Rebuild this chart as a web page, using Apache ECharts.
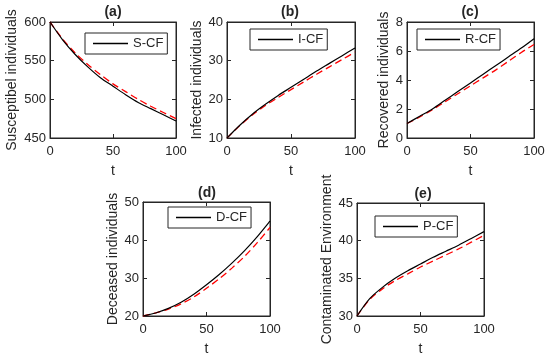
<!DOCTYPE html>
<html><head><meta charset="utf-8">
<script src="https://cdn.jsdelivr.net/npm/echarts@6/dist/echarts.min.js"></script>
<style>html,body{margin:0;padding:0;background:#fff}#c{width:550px;height:357px}</style>
</head><body><div id="c"></div>
<script>
// ---- data ----
const tValues = [0, 10, 20, 30, 40, 50, 60, 70, 80, 90, 100];
const xTicks = [0, 50, 100];

const sCF = [600, 577, 558, 542, 528, 517, 506, 496, 488, 480, 472];
const sRef = [600, 578, 560, 545, 532, 520, 510, 500, 491, 483, 475];

const iCF = [10, 13.3, 16.2, 18.7, 21.0, 23.1, 25.2, 27.3, 29.3, 31.3, 33.3];
const iRef = [10, 13.2, 16.0, 18.4, 20.5, 22.5, 24.5, 26.5, 28.4, 30.3, 32.2];

const rCF = [1.0, 1.5, 2.0, 2.6, 3.2, 3.8, 4.4, 5.0, 5.6, 6.2, 6.85];
const rRef = [1.0, 1.45, 1.95, 2.5, 3.05, 3.6, 4.15, 4.7, 5.3, 5.9, 6.45];

const dCF = [20, 20.8, 22.0, 23.6, 25.7, 28.2, 30.9, 33.9, 37.2, 40.9, 45.0];
const dRef = [20, 20.8, 21.8, 23.2, 25.0, 27.3, 29.8, 32.6, 35.7, 39.3, 43.3];

const pCF = [30, 32.3, 33.8, 35.0, 36.0, 36.9, 37.8, 38.6, 39.4, 40.3, 41.2];
const pRef = [30, 32.2, 33.6, 34.7, 35.6, 36.5, 37.3, 38.1, 38.9, 39.8, 40.7];

const panelTitles = ['(a)', '(b)', '(c)', '(d)', '(e)'];
const yNames = ['Susceptibel individuals', 'Infected individuals', 'Recovered individuals', 'Deceased individuals', 'Contaminated Environment'];
const legendNames = ['S-CF', 'I-CF', 'R-CF', 'D-CF', 'P-CF'];
const refNames = ['S-ref', 'I-ref', 'R-ref', 'D-ref', 'P-ref'];
const yTicks = [[450, 500, 550, 600], [10, 20, 30, 40], [0, 2, 4, 6, 8], [20, 30, 40, 50], [30, 35, 40, 45]];
const cfSeries = [sCF, iCF, rCF, dCF, pCF];
const refSeries = [sRef, iRef, rRef, dRef, pRef];

// ---- layout (styles) ----
const layout = [
  {grid: [50, 22, 126, 116], yGap: 31, title: [113, 0], legend: [85, 33]},
  {grid: [227, 22, 128, 116], yGap: 20, title: [290, 0], legend: [250, 29]},
  {grid: [407, 22, 127, 116], yGap: 16, title: [470, 0], legend: [417, 29]},
  {grid: [143, 202, 127, 114], yGap: 20, title: [207, 181], legend: [168, 207]},
  {grid: [357, 203, 127, 114], yGap: 20, title: [423, 182], legend: [375, 216]}
];

const ink = '#262626';
const font = 'Liberation Sans, Arial, sans-serif';
const pairs = (ys) => tValues.map((t, i) => [t, ys[i]]);

const option = {
  animation: false,
  backgroundColor: '#fff',
  textStyle: {fontFamily: font},
  title: [], legend: [], grid: [], xAxis: [], yAxis: [], series: []
};

layout.forEach((L, i) => {
  const [gl, gt, gw, gh] = L.grid;
  const yt = yTicks[i];
  const yInt = yt[1] - yt[0];
  option.grid.push({left: gl, top: gt, width: gw, height: gh, show: true,
    borderColor: ink, borderWidth: 1, backgroundColor: 'transparent'});
  option.title.push({
    text: panelTitles[i], left: L.title[0] - 5, top: L.title[1], textAlign: 'center',
    textStyle: {fontFamily: font, fontSize: 14, fontWeight: 'bold', color: ink}
  });
  option.legend.push({
    data: [legendNames[i]], left: L.legend[0], top: L.legend[1], orient: 'horizontal',
    icon: 'rect', padding: [4, 4, 4, 8], itemWidth: 35, itemHeight: 1.3, itemGap: 0,
    borderColor: ink, borderWidth: 1, borderRadius: 0, backgroundColor: '#fff',
    textStyle: {fontFamily: font, fontSize: 13, color: ink}, selectedMode: false
  });
  const axisCommon = {
    gridIndex: i, type: 'value', show: true,
    axisLine: {show: true, onZero: false, lineStyle: {color: ink, width: 1}},
    axisTick: {show: true, inside: true, length: 4, lineStyle: {color: ink}},
    splitLine: {show: false}
  };
  option.xAxis.push(Object.assign({}, axisCommon, {
    position: 'bottom', min: xTicks[0], max: xTicks[xTicks.length - 1], interval: xTicks[1] - xTicks[0],
    axisLabel: {fontFamily: font, fontSize: 13, color: ink, margin: 7},
    name: 't', nameLocation: 'middle', nameGap: 26,
    nameTextStyle: {fontFamily: font, fontSize: 14, color: ink}
  }));
  option.xAxis.push(Object.assign({}, axisCommon, {
    position: 'top', min: xTicks[0], max: xTicks[xTicks.length - 1], interval: xTicks[1] - xTicks[0],
    axisLabel: {show: false}
  }));
  option.yAxis.push(Object.assign({}, axisCommon, {
    position: 'left', min: yt[0], max: yt[yt.length - 1], interval: yInt,
    axisLabel: {fontFamily: font, fontSize: 13, color: ink, margin: 4},
    name: yNames[i], nameLocation: 'middle', nameGap: L.yGap,
    nameTextStyle: {fontFamily: font, fontSize: 14, color: ink}
  }));
  option.yAxis.push(Object.assign({}, axisCommon, {
    position: 'right', min: yt[0], max: yt[yt.length - 1], interval: yInt,
    axisLabel: {show: false}
  }));
  option.series.push({
    name: refNames[i], type: 'line', xAxisIndex: 2 * i, yAxisIndex: 2 * i,
    data: pairs(refSeries[i]), symbol: 'none', smooth: 0.3, z: 2,
    lineStyle: {color: '#ff0000', width: 1.3, type: [7, 4]}, itemStyle: {color: '#ff0000'}
  });
  option.series.push({
    name: legendNames[i], type: 'line', xAxisIndex: 2 * i, yAxisIndex: 2 * i,
    data: pairs(cfSeries[i]), symbol: 'none', smooth: 0.3, z: 3,
    lineStyle: {color: '#000', width: 1.2}, itemStyle: {color: '#000'}
  });
  option.series.push({
    name: 'mirror' + i, type: 'line', xAxisIndex: 2 * i + 1, yAxisIndex: 2 * i + 1,
    data: [], symbol: 'none', silent: true
  });
});

const chart = echarts.init(document.getElementById('c'), null, {renderer: 'canvas'});
chart.setOption(option);
</script>
</body></html>
